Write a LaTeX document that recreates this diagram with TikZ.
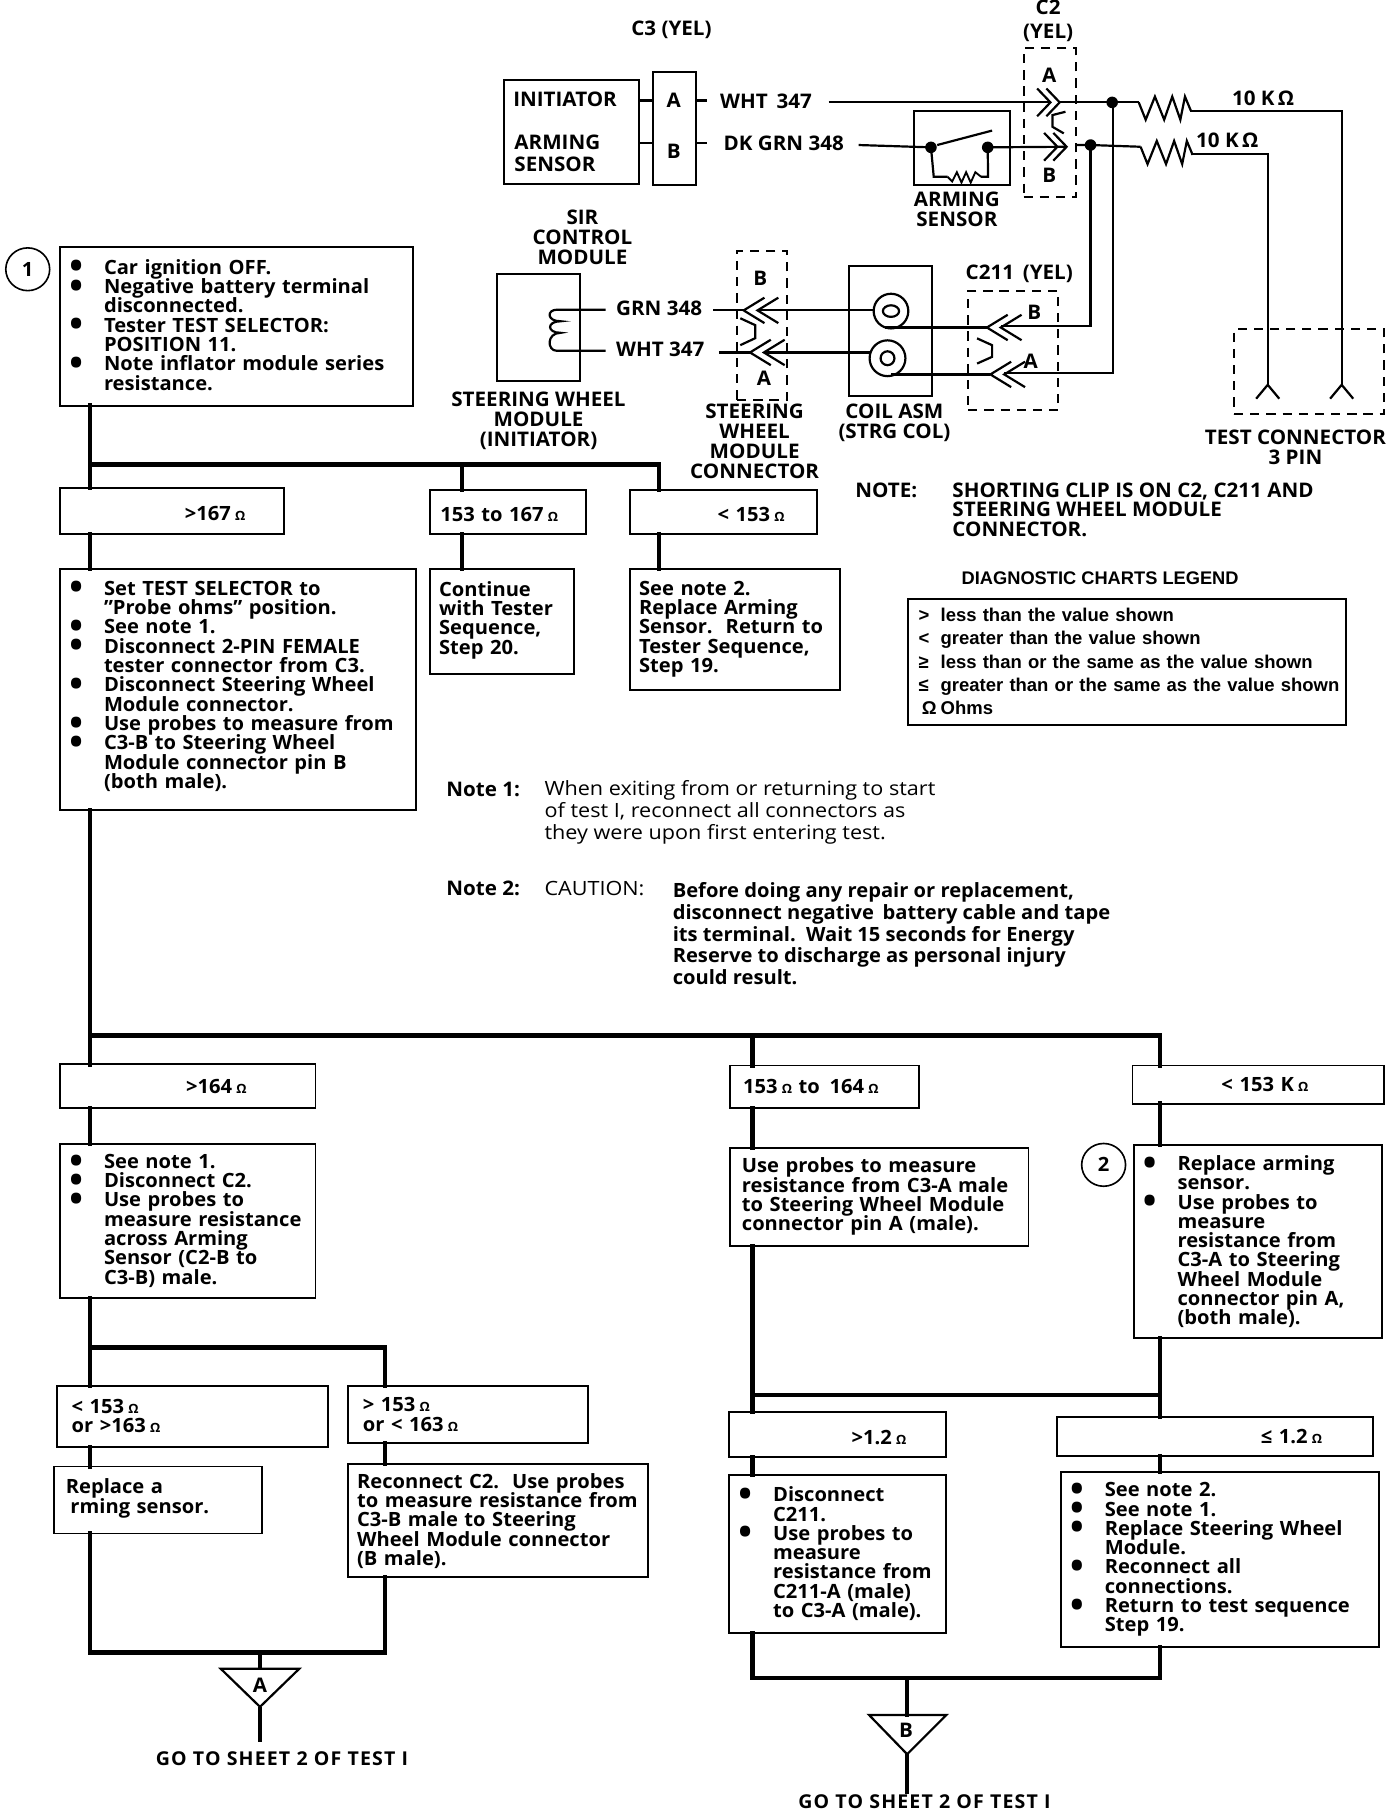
\documentclass[tikz,border=0pt]{standalone}
\usepackage{fontspec}
\setmainfont{Open Sans}[FakeStretch=1.025]
\newfontfamily\notefont{Open Sans}[FakeStretch=1.10]
\newfontfamily\legendfont{Liberation Sans}
\usetikzlibrary{positioning, shapes.geometric}
\setlength{\normallineskiplimit}{-20pt}
\newcommand{\blt}{\makebox[30pt][l]{\raisebox{-4pt}{\scalebox{1.8}{\textbullet}}}}
\newcommand{\ind}{\hspace*{30pt}}
\newcommand{\ohm}{{\fontsize{11}{11}\selectfont\,\,Ω}}
\newcommand{\pad}[1]{\rule[-#1pt]{0pt}{#1pt}}
\newcommand{\tpad}{\rule{0pt}{17pt}}
\newcommand{\legsym}[1]{\makebox[22pt][l]{\hspace{3pt}#1}}
\tikzset{
  resistor/.pic={\draw[wire] (0,0) -- (6,15) -- (14,-5) -- (22,15) -- (29,-5) -- (36,15) -- (40,-5) -- (45,7);},
  sensorzig/.pic={\draw[wire, line width=1.6pt] (0,0) -- (4,4) -- (8,-4) -- (12,5) -- (16,-4) -- (20,5) -- (24,-4) -- (29,0);},
  plugr/.pic={\draw[wire] (-11.5,-12) -- (0,0) -- (-11.5,12); \draw[wire] (-3.5,-12) -- (8,0) -- (-3.5,12);},
  plugl/.pic={\draw[wire] (18,-11) -- (0,0) -- (18,11); \draw[wire] (30,-11) -- (12,0) -- (30,11);},
  forktip/.pic={\draw[wire] (-10,12) -- (0,0) -- (10,12);}
}
\begin{document}
\begin{tikzpicture}[x=1pt, y=-1pt, font=\fontsize{17}{16.7}\selectfont\bfseries,
    stepbox/.style={draw, line width=1.7pt, fill=white, inner xsep=8pt, inner ysep=2pt, outer sep=0pt, anchor=north west, align=left},
    rangebox/.style={stepbox},
    tagcircle/.style={draw, ellipse, line width=1.4pt, minimum width=38pt, minimum height=37pt, inner sep=0pt},
    lbl/.style={inner sep=0pt, align=center, font=\fontsize{17.4}{17}\selectfont\bfseries},
    lblw/.style={lbl, align=left, anchor=west},
    flowline/.style={line width=3.8pt, line cap=rect},
    wire/.style={line width=1.9pt},
    clip box/.style={draw, dashed, line width=1.7pt, dash pattern=on 8pt off 6pt}]
    \useasboundingbox (0,0) rectangle (1205,1568);

    % wiring diagram
    \node[lbl] (c3lbl) at (581,26) {C3 (YEL)};
    \node[lbl] (c2lbl) at (907,18) {C2\\[4pt](YEL)};
    \node[stepbox, minimum width=117pt, minimum height=90pt] (initbox) at (436,69) {};
    \node[lblw] (initlbl) at (444,86) {INITIATOR};
    \node[lblw] (armlbl) at (445,133) {ARMING\\[2pt]SENSOR};
    \node[stepbox, minimum width=37pt, minimum height=98pt] (c3box) at (565,62) {};
    \node[lbl] (c3a) at (583,87) {A}; \node[lbl] (c3b) at (583,131) {B};
    \draw[wire] (initbox.east |- c3a) -- (c3box.west |- c3a); \draw[wire] (initbox.east |- 0,124) -- (c3box.west |- 0,124);
    \draw[wire] (c3box.east |- c3a) -- ++(10,0); \draw[wire] (c3box.east |- 0,124) -- ++(10,0);
    \node[lblw] (whta) at (623,88) {WHT\, 347}; \node[lblw] (grna) at (626,124) {DK GRN 348};

    \node[clip box, minimum width=45pt, minimum height=129pt, anchor=north west] (c2) at (885,41) {};
    \node[lbl] (c2a) at (908,65) {A}; \node[lbl] (c2b) at (908,152) {B};
    \node[stepbox, minimum width=83pt, minimum height=64pt] (sensor) at (791,96) {};
    \node[lbl] (sensorlbl) at (828,181) {ARMING\\[0.5pt]SENSOR};
    \coordinate (dota) at (962.4,88.6); \coordinate (dotb) at (943.7,125.5);
    \coordinate (swa) at (805.6,127.5); \coordinate (swb) at (854.7,127.5);
    \fill (dota) circle (5pt); \fill (dotb) circle (5pt); \fill (swa) circle (5pt); \fill (swb) circle (5pt);
    \draw[wire] (717,88.6) -- (909,88.6); \draw[wire] (917,88.6) -- (dota) -- (985.4,88.6);
    \pic at (909,88.6) {plugr}; \pic at (915,127) {plugr};
    \draw[wire] (743,125.5) -- (swa); \draw[wire] (811,125.5) -- (858.5,113); \draw[wire] (swb) -- (922,127); \draw[wire] (931,125.5) -- (dotb) -- (987,127);
    \draw[wire] (swa) -- (808,153) -- (820,153); \draw[wire] (849,153) -- (855,153) -- (swb);
    \pic at (820,153) {sensorzig};
    \draw[wire] (922,96.7) -- (910.7,99.6) -- (910.7,109.7) -- (920.5,115.4);
    \pic at (985.4,88.6) {resistor}; \pic at (987,127) {resistor};
    \draw[wire] (1030,96) -- (1161,96) -- (1161,333); \draw[wire] (1031,133) -- (1097,133) -- (1097,333);
    \node[lbl] (ra) at (1093,85) {10 K\,Ω}; \node[lbl] (rb) at (1062,121) {10 K\,Ω};

    \node[lbl] (sirlbl) at (504,205) {SIR\\[0.3pt]CONTROL\\[0.3pt]MODULE};
    \node[stepbox, minimum width=72pt, minimum height=93pt] (swm) at (430,237) {};
    \node[lbl] (swmlbl) at (466,364) {STEERING WHEEL\\[0.3pt]MODULE\\[0.3pt](INITIATOR)};
    \draw[wire] (524,268) -- (482,268) .. controls (473,268) and (473,278) .. (485,278) .. controls (473,278) and (473,288) .. (485,288) .. controls (473,288) and (473,303.6) .. (482,303.6) -- (524,303.6);
    \node[lblw] (grnb) at (533,267) {GRN 348}; \node[lblw] (whtb) at (533,302) {WHT 347};
    \node[clip box, minimum width=43pt, minimum height=129pt, anchor=north west] (swc) at (637,216) {};
    \node[lbl] (swcb) at (658,241) {B}; \node[lbl] (swca) at (661,327) {A};
    \node[lbl] (swclbl) at (653,382) {STEERING\\[0.3pt]WHEEL\\[0.3pt]MODULE\\[0.3pt]CONNECTOR};
    \draw[wire] (617,268.6) -- (643.5,268.6); \draw[wire] (622,305) -- (649,305);
    \pic at (643.5,268.6) {plugl}; \pic at (649,305) {plugl};
    \draw[wire] (640.6,275.4) -- (653.6,281.4) -- (653.6,292.6) -- (640.6,298.7);
    \node[stepbox, minimum width=71.5pt, minimum height=112pt] (coil) at (735,230.4) {};
    \node[lbl] (coillbl) at (774,366) {COIL ASM\\[0.3pt](STRG COL)};
    \draw[wire] (655.5,268.6) -- (756,268.6); \draw[wire] (661,305) -- (753,305);
    \draw[wire] (771,269.2) circle (15pt); \draw[wire] (771,269.2) ellipse (7pt and 5pt);
    \draw[wire] (768,310) circle (15.5pt); \draw[wire] (768,310) ellipse (6pt and 6pt);
    \node[clip box, minimum width=78pt, minimum height=103pt, anchor=north west] (c211) at (837,251) {};
    \node[lbl] (c211lbl) at (882,237) {C211\, (YEL)};
    \node[lbl] (c211b) at (895,270) {B}; \node[lbl] (c211a) at (892,313) {A};
    \draw[wire] (766,283.4) -- (854,283.4); \draw[wire] (771,324) -- (857,324);
    \pic at (854,283.4) {plugl}; \pic at (857,324) {plugl};
    \draw[wire] (845.5,292.8) -- (858.5,298.7) -- (858.5,308.8) -- (845.5,314.6);
    \draw[wire] (dotb) -- (943.7,282) -- (866,282); \draw[wire] (963,88.6) -- (963,322.8) -- (869,322.8);
    \node[clip box, minimum width=130pt, minimum height=73pt, anchor=north west] (testbox) at (1067,284) {};
    \node[lbl] (testlbl) at (1121,387) {TEST CONNECTOR\\[0.3pt]3 PIN};
    \pic at (1097,333) {forktip}; \pic at (1161,333) {forktip};

    \node[lblw] (notelbl) at (740,424) {NOTE:};
    \node[lblw] (notetxt) at (824,441) {SHORTING CLIP IS ON C2, C211 AND\\STEERING WHEEL MODULE\\CONNECTOR.};

    % legend
    \node[lbl, font=\fontsize{15.8}{16}\selectfont\legendfont\bfseries] (leghead) at (952,500) {DIAGNOSTIC CHARTS LEGEND};
    \node[stepbox, inner xsep=6pt, minimum height=109pt, text width=367pt, font=\fontsize{16}{20.2}\selectfont\legendfont\bfseries] (legend) at (786,518)
      {\legsym{>}less than the value shown\\\legsym{<}greater than the value shown\\\legsym{≥}less than or the same as the value shown\\\legsym{≤}greater than or the same as the value shown\\\legsym{\,Ω}Ohms};

    % notes
    \node[lblw] (note1lbl) at (386,683) {Note 1:};
    \node[lblw, font=\fontsize{17}{19}\selectfont\notefont\mdseries] (note1txt) at (471,703) {When exiting from or returning to start\\of test I, reconnect all connectors as\\they were upon first entering test.};
    \node[lblw] (note2lbl) at (386,769) {Note 2:};
    \node[lblw, font=\fontsize{17}{19}\selectfont\notefont\mdseries] (caution) at (471,769) {CAUTION:};
    \node[lblw, font=\fontsize{17}{18.8}\selectfont\bfseries] (note2txt) at (582,808) {Before doing any repair or replacement,\\disconnect negative\, battery cable and tape\\its terminal.\, Wait 15 seconds for Energy\\Reserve to discharge as personal injury\\could result.};

    % first measurement
    \node[tagcircle] (tag1) at (24,233) {1};
    \node[stepbox, text width=289pt, minimum height=137pt] (init) at (52,214)
      {\blt Car ignition OFF.\\\blt Negative battery terminal\\\ind disconnected.\\\blt Tester TEST SELECTOR:\\\ind POSITION 11.\\\blt Note inflator module series\\\ind resistance.\pad{3}};
    \node[rangebox, text width=178pt, minimum height=40pt] (gt167) at (52,422) {\tpad\hspace*{100pt}>167\ohm};
    \node[rangebox, text width=119pt, minimum height=38pt] (mid167) at (372,424) {\tpad\hspace*{1pt}153 to 167\ohm};
    \node[rangebox, text width=146pt, minimum height=38pt] (lt153) at (545,424) {\tpad\hspace*{68pt}< 153\ohm};
    \node[stepbox, below=30pt of gt167.south west, anchor=north west, text width=292pt, minimum height=209pt] (probe)
      {\blt Set TEST SELECTOR to\\\ind "Probe ohms" position.\\\blt See note 1.\\\blt Disconnect 2-PIN FEMALE\\\ind tester connector from C3.\\\blt Disconnect Steering Wheel\\\ind Module connector.\\\blt Use probes to measure from\\\blt C3-B to Steering Wheel\\\ind Module connector pin B\\\ind (both male).\pad{8}};
    \node[stepbox, text width=109pt, minimum height=91pt] (cont) at (372,492) {Continue\\with Tester\\Sequence,\\Step 20.\pad{6}};
    \node[stepbox, text width=166pt, minimum height=105pt] (repl) at (545,492) {See note 2.\\Replace Arming\\Sensor.\, Return to\\Tester Sequence,\\Step 19.\pad{2}};
    \coordinate (splitA) at (78,402); \coordinate (busB) at (400,402); \coordinate (busC) at (570,402);
    \draw[flowline] (init.south -| splitA) -- (gt167.north -| splitA); \draw[flowline] (gt167.south -| splitA) -- (probe.north -| splitA);
    \draw[flowline] (splitA) -- (busC) -- (lt153.north -| busC); \draw[flowline] (busB) -- (mid167.north -| busB);
    \draw[flowline] (mid167.south -| busB) -- (cont.north -| busB); \draw[flowline] (lt153.south -| busC) -- (repl.north -| busC);

    % second measurement
    \node[rangebox, text width=205pt, minimum height=38pt] (gt164) at (52,921) {\hspace*{101pt}>164\ohm};
    \node[stepbox, text width=205pt, minimum height=133pt] (seenote) at (52,990)
      {\blt See note 1.\\\blt Disconnect C2.\\\blt Use probes to\\\ind measure resistance\\\ind across Arming\\\ind Sensor (C2-B to\\\ind C3-B) male.\pad{3}};
    \node[rangebox, text width=147pt, minimum height=37pt] (mid164) at (632,922) {\hspace*{3pt}153\ohm\ to\, 164\ohm};
    \node[stepbox, text width=242pt, minimum height=85pt] (probea) at (632,993) {\hspace*{2pt}Use probes to measure\\\hspace*{2pt}resistance from C3-A male\\\hspace*{2pt}to Steering Wheel Module\\\hspace*{2pt}connector pin A (male).\pad{2}};
    \node[rangebox, text width=202pt, minimum height=33pt] (lt153k) at (980,922) {\hspace*{69pt}< 153 K\ohm};
    \node[tagcircle] (tag2) at (955,1008) {2};
    \node[stepbox, text width=199pt, minimum height=167pt] (replsens) at (981,991)
      {\blt Replace arming\\\ind sensor.\\\blt Use probes to\\\ind measure\\\ind resistance from\\\ind C3-A to Steering\\\ind Wheel Module\\\ind connector pin A,\\\ind (both male).};
    \coordinate (splitD) at (78,896); \coordinate (busE) at (651,896); \coordinate (busF) at (1004,896);
    \draw[flowline] (probe.south -| splitD) -- (gt164.north -| splitD); \draw[flowline] (gt164.south -| splitD) -- (seenote.north -| splitD);
    \draw[flowline] (splitD) -- (busF) -- (lt153k.north -| busF); \draw[flowline] (busE) -- (mid164.north -| busE);
    \draw[flowline] (mid164.south -| busE) -- (probea.north -| busE); \draw[flowline] (lt153k.south -| busF) -- (replsens.north -| busF);

    % left branch
    \node[rangebox, text width=219pt, minimum height=53pt] (lt153b) at (49,1199) {\hspace*{5pt}< 153\ohm\\\hspace*{5pt}or >163\ohm};
    \node[rangebox, text width=192pt, minimum height=50pt] (gt153b) at (301,1199) {\hspace*{5pt}> 153\ohm\\\hspace*{5pt}or < 163\ohm};
    \node[stepbox, text width=164pt, minimum height=58pt] (replace) at (47,1269) {\hspace*{2pt}Replace a\\\hspace*{6pt}rming sensor.\pad{7}};
    \node[stepbox, text width=244pt, minimum height=98pt] (recon) at (301,1267) {Reconnect C2.\, Use probes\\\mbox{to measure resistance from}\\C3-B male to Steering\\Wheel Module connector\\(B male).};
    \coordinate (splitG) at (78,1166); \coordinate (busH) at (333,1166); \coordinate (joinI) at (78,1430); \coordinate (joinJ) at (333,1430);
    \draw[flowline] (seenote.south -| splitG) -- (lt153b.north -| splitG); \draw[flowline] (splitG) -- (busH) -- (gt153b.north -| busH);
    \draw[flowline] (lt153b.south -| splitG) -- (replace.north -| splitG); \draw[flowline] (gt153b.south -| busH) -- (recon.north -| busH);
    \draw[flowline] (replace.south -| joinI) -- (joinI) -- (joinJ) -- (recon.south -| joinJ);
    \coordinate (sheetA) at (225,1444);
    \draw[flowline, line width=3pt] (sheetA |- joinI) -- (sheetA); \draw[wire] (191,1444) -- (259,1444) -- (225,1477) -- cycle;
    \draw[line width=3pt] (225,1477) -- (225,1507);
    \node[lbl] (markA) at (225,1458) {A};
    \node[lbl, font=\fontsize{16.5}{17}\selectfont\bfseries\addfontfeature{LetterSpace=6}] (gotoA) at (244,1522) {GO TO SHEET 2 OF TEST I};

    % right branch
    \node[rangebox, text width=172pt, minimum height=39pt] (gt12) at (631,1222) {\tpad\hspace*{98pt}>1.2\ohm};
    \node[rangebox, text width=257pt, minimum height=34pt] (le12) at (915,1226) {\hspace*{168pt}≤ 1.2\ohm};
    \node[stepbox, text width=172pt, minimum height=137pt] (discon) at (631,1276)
      {\blt Disconnect\\\ind C211.\\\blt Use probes to\\\ind measure\\\ind resistance from\\\ind C211-A (male)\\\ind to C3-A (male).\pad{2}};
    \node[stepbox, text width=259pt, minimum height=151pt] (replmod) at (918,1274)
      {\blt See note 2.\\\blt See note 1.\\\blt Replace Steering Wheel\\\ind Module.\\\blt Reconnect all\\\ind connections.\\\blt Return to test sequence\\\ind Step 19.};
    \coordinate (splitK) at (651,1207); \coordinate (busL) at (1004,1207); \coordinate (joinM) at (651,1452); \coordinate (joinN) at (1004,1452);
    \draw[flowline] (probea.south -| splitK) -- (gt12.north -| splitK); \draw[flowline] (replsens.south -| busL) -- (le12.north -| busL); \draw[flowline, line width=3pt] (splitK) -- (busL);
    \draw[flowline] (gt12.south -| splitK) -- (discon.north -| splitK); \draw[flowline] (le12.south -| busL) -- (replmod.north -| busL);
    \draw[flowline] (discon.south -| joinM) -- (joinM) -- (joinN) -- (replmod.south -| joinN);
    \coordinate (sheetB) at (785,1484);
    \draw[flowline] (sheetB |- joinM) -- (sheetB); \draw[wire] (752,1484) -- (819,1484) -- (785,1518) -- cycle;
    \draw[line width=3.5pt] (785,1518) -- (785,1552);
    \node[lbl] (markB) at (784,1497) {B};
    \node[lbl, font=\fontsize{16.5}{17}\selectfont\bfseries\addfontfeature{LetterSpace=6}] (gotoB) at (800,1559) {GO TO SHEET 2 OF TEST I};
\end{tikzpicture}
\end{document}
